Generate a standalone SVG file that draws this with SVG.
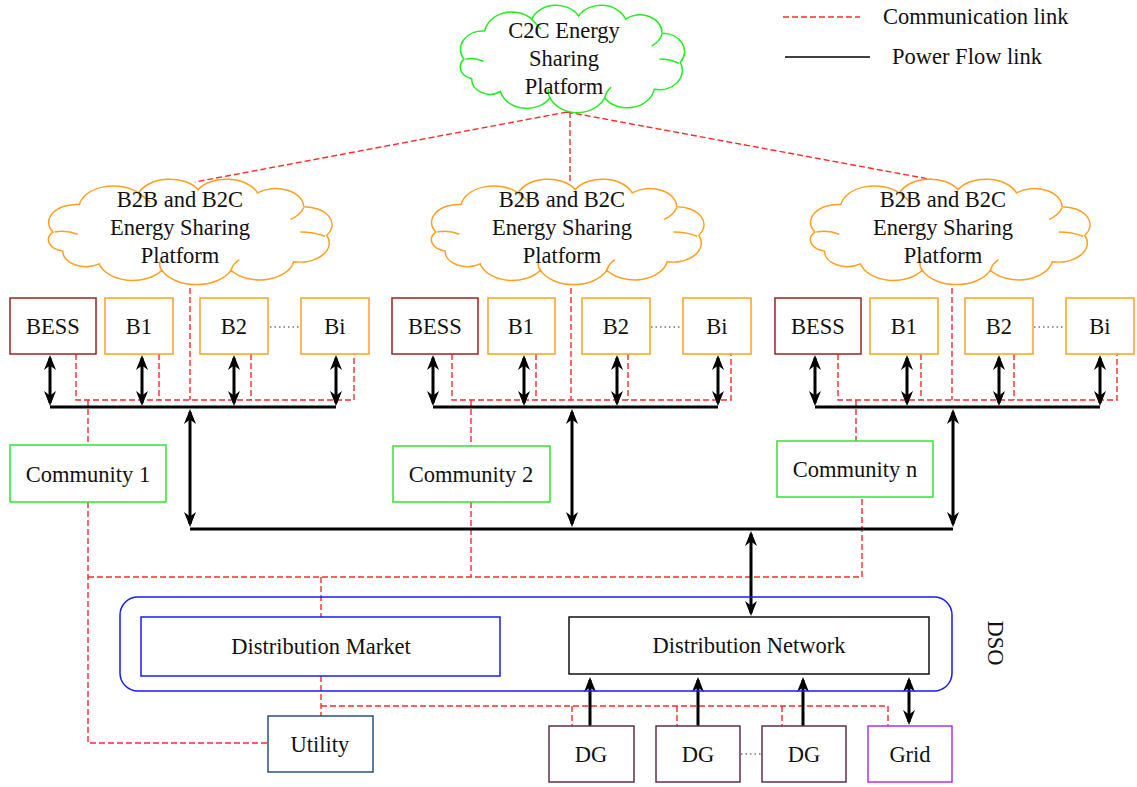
<svg xmlns="http://www.w3.org/2000/svg" xmlns:xlink="http://www.w3.org/1999/xlink" width="1137" height="787" viewBox="0 0 1137 787">
<style>
.t{font-family:"Liberation Serif","Times New Roman",serif;font-size:22.5px;fill:#111;text-anchor:middle}
.ts{text-anchor:start}
.comm{stroke:#ff2a2a;stroke-width:1.4;stroke-dasharray:6 3;fill:none}
.pwr{stroke:#000;stroke-width:3;fill:none}
.dbl{marker-start:url(#ah);marker-end:url(#ah)}
.one{marker-end:url(#ah)}
.dot{stroke:#333;stroke-width:1.2;stroke-dasharray:1.5 3;fill:none}
.box{fill:#fff;stroke-width:1.5}
.bess{stroke:#a02020}
.bld{stroke:#ffa020}
.com{stroke:#2ee82e}
.blue{stroke:#1a1aff}
.dg{stroke:#5c3050}
.grid{stroke:#aa33ff}
.util{stroke:#2a5078}
.blk{stroke:#111}
.cg{stroke:#22ee22}
.co{stroke:#ffa020}
</style>
<defs>
<marker id="ah" viewBox="0 0 15 12" refX="12" refY="6" markerWidth="15" markerHeight="12" markerUnits="userSpaceOnUse" orient="auto-start-reverse">
<path d="M0,0 L15,6 L0,12 L4.5,6 Z" fill="#000"/>
</marker>
<g id="cloud">
<path vector-effect="non-scaling-stroke" fill="#fff" stroke-width="1.5" d="M18,52 A17,17 0 0 1 34,26 A21,21 0 0 1 70,15 A20,20 0 0 1 106,12 A20,20 0 0 1 142,15 A17,17 0 0 1 170,28 A17,17 0 0 1 184,55 A18,18 0 0 1 164,80 A21,21 0 0 1 126,88 A23,23 0 0 1 84,88 A21,21 0 0 1 46,82 A14,14 0 0 1 24,70 A11,11 0 0 1 18,52 Z"/>
<path vector-effect="non-scaling-stroke" fill="none" stroke-width="1.5" d="M19,52 Q26,50 33,54 M170,29 Q168,36 162,40 M183,56 Q176,52 168,52 M126,88 Q127,82 131,78 M84,88 Q82,84 83,80 M70,15 Q74,20 77,24"/>
</g>
</defs>
<rect width="1137" height="787" fill="#fff"/>

<g id="connectors">
<path class="comm" d="M567,112 L195,182 M570,112 V182 M567,112 L945,182"/>
<path class="comm" d="M76,354 V400 H354 V354 M159,354 V400 M251,354 V400 M190,270 V400 M88,400 V445"/>
<path class="comm" d="M452,354 V400 H731 V354 M536,354 V400 M628,354 V400 M571,270 V400 M471,400 V446"/>
<path class="comm" d="M838,354 V400 H1117 V354 M921,354 V400 M1014,354 V400 M952,270 V400 M856,400 V441"/>
<path class="comm" d="M88,502 V743 H268 M88,577 H862 V497 M471,502 V577 M321,577 V617 M321,676 V716 M321,706 H888 V726 M572,706 V726 M677,706 V726 M782,706 V726"/>
<path class="pwr" d="M50,407 H336 M433,407 H718 M815,407 H1100 M190,529 H953"/>
<path class="pwr dbl" d="M50,358 V403"/>
<path class="pwr dbl" d="M142,358 V403"/>
<path class="pwr dbl" d="M234,358 V403"/>
<path class="pwr dbl" d="M336,358 V403"/>
<path class="pwr dbl" d="M433,358 V403"/>
<path class="pwr dbl" d="M524,358 V403"/>
<path class="pwr dbl" d="M617,358 V403"/>
<path class="pwr dbl" d="M718,358 V403"/>
<path class="pwr dbl" d="M815,358 V403"/>
<path class="pwr dbl" d="M907,358 V403"/>
<path class="pwr dbl" d="M999,358 V403"/>
<path class="pwr dbl" d="M1100,358 V403"/>
<path class="pwr dbl" d="M190,412 V524"/>
<path class="pwr dbl" d="M572,412 V524"/>
<path class="pwr dbl" d="M953,412 V524"/>
<path class="pwr dbl" d="M751,534 V613"/>
<path class="pwr one" d="M590,726 V680"/>
<path class="pwr one" d="M698,726 V680"/>
<path class="pwr one" d="M803,726 V680"/>
<path class="pwr dbl" d="M909,680 V722"/>
<path class="dot" d="M270,327 H300 M651,327 H682 M1034,327 H1065 M741,754 H761"/>
</g>

<g id="legend">
<line x1="783" y1="17" x2="860" y2="17" class="comm"/>
<text class="t ts" x="883" y="24">Communication link</text>
<line x1="785" y1="57" x2="870" y2="57" stroke="#000" stroke-width="1.5"/>
<text class="t ts" x="892" y="64">Power Flow link</text>
</g>

<g id="c2c">
<use xlink:href="#cloud" class="cg" transform="translate(440.4,3) scale(1.304,1.079)"/>
<text class="t" x="564" y="38">C2C Energy</text>
<text class="t" x="564" y="66">Sharing</text>
<text class="t" x="564" y="94">Platform</text>
</g>

<g id="b2b1">
<use xlink:href="#cloud" class="co" transform="translate(23.3,177) scale(1.649,1.059)"/>
<text class="t" x="180" y="207">B2B and B2C</text>
<text class="t" x="180" y="235">Energy Sharing</text>
<text class="t" x="180" y="263">Platform</text>
</g>
<g id="b2b2">
<use xlink:href="#cloud" class="co" transform="translate(407.2,177) scale(1.585,1.059)"/>
<text class="t" x="562" y="207">B2B and B2C</text>
<text class="t" x="562" y="235">Energy Sharing</text>
<text class="t" x="562" y="263">Platform</text>
</g>
<g id="b2b3">
<use xlink:href="#cloud" class="co" transform="translate(785.6,177) scale(1.626,1.059)"/>
<text class="t" x="943" y="207">B2B and B2C</text>
<text class="t" x="943" y="235">Energy Sharing</text>
<text class="t" x="943" y="263">Platform</text>
</g>

<g id="bess1"><rect class="box bess" x="10" y="298" width="86" height="56"/><text class="t" x="53" y="334">BESS</text></g>
<g id="b1_1"><rect class="box bld" x="105" y="298" width="68" height="56"/><text class="t" x="139" y="334">B1</text></g>
<g id="b2_1"><rect class="box bld" x="200" y="298" width="68" height="56"/><text class="t" x="234" y="334">B2</text></g>
<g id="bi_1"><rect class="box bld" x="301" y="298" width="68" height="56"/><text class="t" x="335" y="334">Bi</text></g>

<g id="bess2"><rect class="box bess" x="392" y="298" width="86" height="56"/><text class="t" x="435" y="334">BESS</text></g>
<g id="b1_2"><rect class="box bld" x="488" y="298" width="67" height="56"/><text class="t" x="521" y="334">B1</text></g>
<g id="b2_2"><rect class="box bld" x="582" y="298" width="68" height="56"/><text class="t" x="616" y="334">B2</text></g>
<g id="bi_2"><rect class="box bld" x="683" y="298" width="68" height="56"/><text class="t" x="717" y="334">Bi</text></g>

<g id="bess3"><rect class="box bess" x="775" y="298" width="86" height="56"/><text class="t" x="818" y="334">BESS</text></g>
<g id="b1_3"><rect class="box bld" x="870" y="298" width="68" height="56"/><text class="t" x="904" y="334">B1</text></g>
<g id="b2_3"><rect class="box bld" x="965" y="298" width="68" height="56"/><text class="t" x="999" y="334">B2</text></g>
<g id="bi_3"><rect class="box bld" x="1066" y="298" width="68" height="56"/><text class="t" x="1100" y="334">Bi</text></g>

<g id="community1"><rect class="box com" x="10" y="445" width="156" height="57"/><text class="t" x="88" y="482">Community 1</text></g>
<g id="community2"><rect class="box com" x="393" y="446" width="157" height="56"/><text class="t" x="471" y="482">Community 2</text></g>
<g id="communityn"><rect class="box com" x="777" y="441" width="156" height="56"/><text class="t" x="855" y="477">Community n</text></g>

<g id="dso">
<rect x="120" y="597" width="832" height="94" rx="18" fill="none" stroke="#1a1aff" stroke-width="1.5"/>
<text class="t" transform="translate(988,643) rotate(90)">DSO</text>
</g>
<g id="market"><rect class="box blue" x="141" y="617" width="359" height="59"/><text class="t" x="321" y="654">Distribution Market</text></g>
<g id="network"><rect class="box blk" x="569" y="617" width="360" height="57"/><text class="t" x="749" y="653">Distribution Network</text></g>

<g id="utility"><rect class="box util" x="268" y="716" width="105" height="56"/><text class="t" x="320" y="752">Utility</text></g>
<g id="dg1"><rect class="box dg" x="549" y="726" width="85" height="56"/><text class="t" x="591" y="762">DG</text></g>
<g id="dg2"><rect class="box dg" x="656" y="726" width="84" height="56"/><text class="t" x="698" y="762">DG</text></g>
<g id="dg3"><rect class="box dg" x="762" y="726" width="84" height="56"/><text class="t" x="804" y="762">DG</text></g>
<g id="grid"><rect class="box grid" x="868" y="726" width="84" height="56"/><text class="t" x="910" y="762">Grid</text></g>
</svg>
